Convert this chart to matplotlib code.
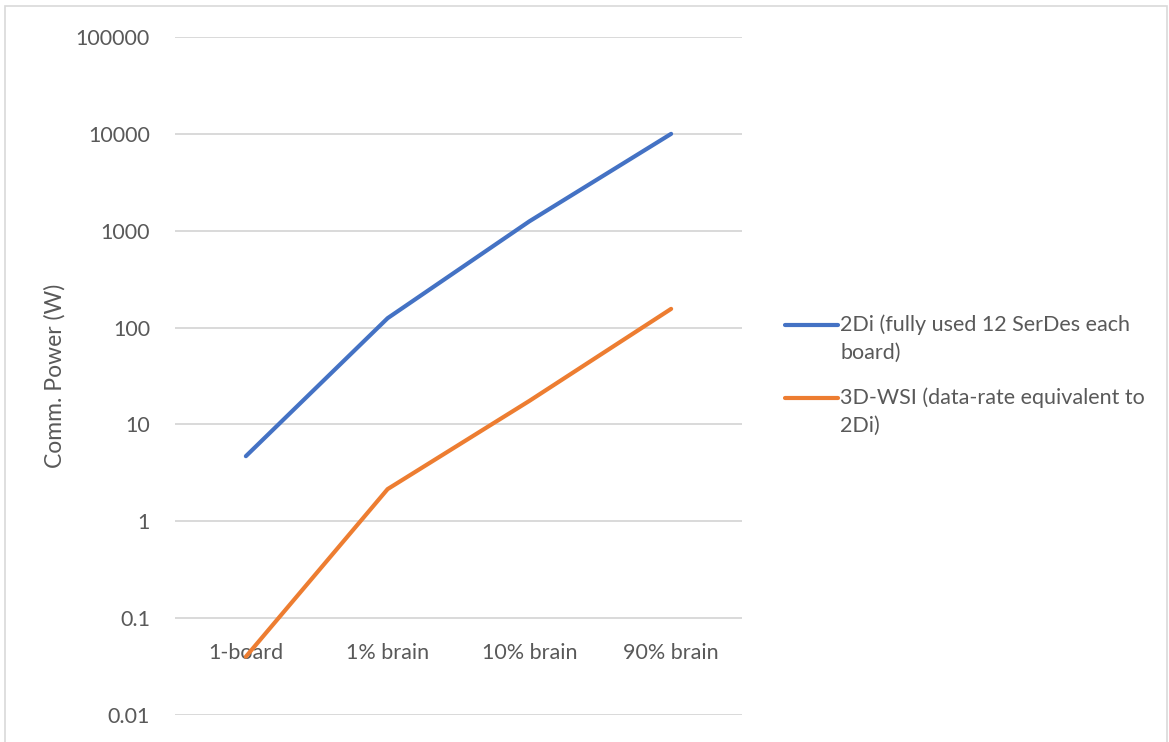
import matplotlib
matplotlib.use("Agg")
import matplotlib.pyplot as plt
from matplotlib.lines import Line2D
from matplotlib.patches import Rectangle

categories = ["1-board", "1% brain", "10% brain", "90% brain"]
power_2di = [4.7, 125, 1250, 10000]
power_3dwsi = [0.04, 2.15, 17.5, 156]
series_labels = [
    "2Di (fully used 12 SerDes each\nboard)",
    "3D-WSI (data-rate equivalent to\n2Di)",
]
y_ticks = [0.01, 0.1, 1, 10, 100, 1000, 10000, 100000]
y_tick_labels = ["0.01", "0.1", "1", "10", "100", "1000", "10000", "100000"]

BLUE = "#4472C4"
ORANGE = "#ED7D31"
GREY_TEXT = "#595959"
GRID = "#D9D9D9"

plt.rcParams["font.family"] = ["Lato", "DejaVu Sans"]

W, H = 1169, 742
fig = plt.figure(figsize=(W / 100, H / 100), dpi=100)
ax = fig.add_axes([175 / W, 1 - 715 / H, (742 - 175) / W, (715 - 37) / H])

x = list(range(len(categories)))
for vals, color in [(power_2di, BLUE), (power_3dwsi, ORANGE)]:
    ax.plot(x, vals, color=color, lw=3.0, solid_capstyle="round",
            solid_joinstyle="round", zorder=3)

ax.set_yscale("log")
ax.set_ylim(0.01, 100000)
ax.set_xlim(-0.5, len(categories) - 0.5)
ax.set_yticks(y_ticks)
ax.set_yticklabels(y_tick_labels)
ax.minorticks_off()
ax.yaxis.grid(True, color=GRID, lw=1.4)
ax.set_axisbelow(True)

# category axis sits at 0.1, spine hidden
ax.spines["bottom"].set_position(("data", 0.1))
for s in ax.spines.values():
    s.set_visible(False)
ax.set_xticks(x)
ax.set_xticklabels(categories)
ax.tick_params(axis="x", length=0, pad=18, labelsize=15.5, labelcolor=GREY_TEXT)
ax.tick_params(axis="y", length=0, pad=18, labelsize=15.5, labelcolor=GREY_TEXT)

ax.set_ylabel("Comm. Power (W)", fontsize=16.5, color=GREY_TEXT, labelpad=7)

# legend on the right, drawn in figure pixels
for (ly, label, color) in [(325, series_labels[0], BLUE), (398, series_labels[1], ORANGE)]:
    fig.add_artist(Line2D([785 / W, 838 / W], [1 - ly / H, 1 - ly / H],
                          color=color, lw=3.0, solid_capstyle="round"))
    fig.text(840 / W, 1 - (ly - 11) / H, label, fontsize=15.5, color=GREY_TEXT,
             va="top", ha="left", linespacing=1.5)

# chart border
fig.add_artist(Rectangle((5 / W, -0.05), (1167 - 5) / W, 1.05 - 6 / H,
                         transform=fig.transFigure, fill=False,
                         edgecolor=GRID, lw=1.2))

fig.savefig("out.png", dpi=100)
